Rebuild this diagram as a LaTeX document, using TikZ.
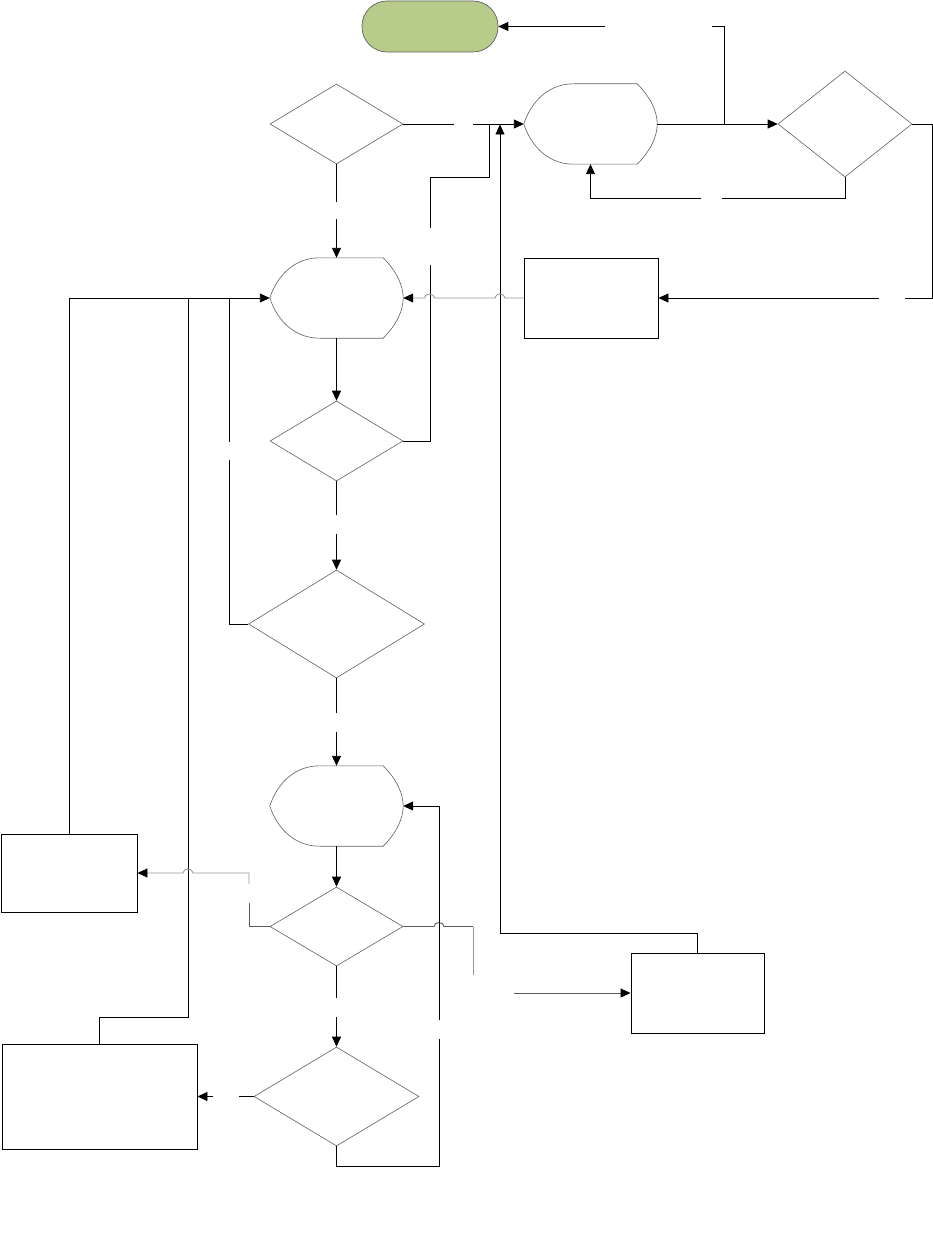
\documentclass[tikz,border=0pt]{standalone}
\usetikzlibrary{shapes.geometric,arrows.meta,calc}
\definecolor{termfill}{RGB}{183,204,138}
\definecolor{shapegray}{RGB}{95,95,95}
\definecolor{lightconn}{RGB}{150,150,150}
\definecolor{midconn}{RGB}{90,90,90}
\tikzset{
  shapeln/.style={draw=shapegray,line width=0.6pt},
  dec/.style={diamond,draw=shapegray,line width=0.6pt,inner sep=0pt},
  dispbox/.style={rectangle,inner sep=0pt,minimum width=133pt,minimum height=80pt},
  procbox/.style={rectangle,draw=black,line width=0.9pt,inner sep=0pt},
  termbox/.style={rectangle,draw=shapegray,line width=0.7pt,fill=termfill,rounded corners=25pt,inner sep=0pt,minimum width=136pt,minimum height=51pt},
  conn/.style={draw=black,line width=0.9pt},
  gconn/.style={draw=lightconn,line width=0.9pt},
  mconn/.style={draw=midconn,line width=0.9pt},
  arr/.style={-{Triangle[length=10pt,width=9pt,color=black]}},
}
\newcommand\dispoutline[1]{%
  \draw[shapeln] ($(#1.north west)+(50,0)$) -- ($(#1.north east)+(-20,0)$)
    .. controls ($(#1.east)+(-6,-26)$) and ($(#1.east)+(0,-12)$) .. (#1.east)
    .. controls ($(#1.east)+(0,12)$) and ($(#1.east)+(-6,26)$) .. ($(#1.south east)+(-20,0)$)
    -- ($(#1.south west)+(50,0)$)
    .. controls ($(#1.south west)+(20,0)$) and ($(#1.west)+(5,16)$) .. (#1.west)
    .. controls ($(#1.west)+(5,-16)$) and ($(#1.north west)+(20,0)$) .. cycle;}
\begin{document}
\begin{tikzpicture}[x=1pt,y=-1pt]
\useasboundingbox (0,0) rectangle (933,1252);
% nodes
\node[termbox] (term) at (430,26.5) {};
\node[dec,minimum width=133pt,minimum height=80pt] (d1) at (336.5,124) {};
\node[dispbox] (s1) at (590.5,124) {};
\node[dec,minimum width=134pt,minimum height=106pt] (d2) at (845,124) {};
\node[procbox,minimum width=134pt,minimum height=80pt] (r1) at (591,298) {};
\node[dispbox] (s2) at (336.5,298) {};
\node[dec,minimum width=133pt,minimum height=80pt] (d3) at (336.5,441) {};
\node[dec,minimum width=176pt,minimum height=108pt] (d4) at (336.5,624) {};
\node[dispbox] (s3) at (336.5,806) {};
\node[dec,minimum width=133pt,minimum height=79pt] (d5) at (336.5,926.5) {};
\node[procbox,minimum width=136pt,minimum height=78pt] (r2) at (69,873) {};
\node[procbox,minimum width=133pt,minimum height=80pt] (r3) at (697.5,993) {};
\node[dec,minimum width=165pt,minimum height=99pt] (d6) at (336.5,1096.5) {};
\node[procbox,minimum width=195pt,minimum height=105pt] (r4) at (99.5,1096.5) {};
\dispoutline{s1}
\dispoutline{s2}
\dispoutline{s3}
% coordinates
\coordinate (ja) at (724,124);
% connectors
\draw[conn] (ja) |- (712,26.5);
\draw[conn,arr] (605,26.5) -- (term.east);
\draw[conn,arr] (s1.east) -- (d2.west);
\draw[conn] (d1.east) -- (454,124);
\draw[conn,arr] (473,124) -- (s1.west);
\draw[conn] (d3.east) -- (430,441) -- (430,265);
\draw[conn] (430,228) -- (430,177) -- (489,177) -- (489,124);
\draw[conn,arr] (r3.north) |- (500,933) -- (500,124.5);
\draw[conn] (d2.south) |- (722,198);
\draw[conn,arr] (701,198) -| (s1.south);
\draw[conn] (d2.east) -- (932,124) |- (905,298);
\draw[conn,arr] (879,298) -- (r1.east);
\draw[gconn,arr] (r1.west) -- (505,298) arc[start angle=0,end angle=-180,x radius=5,y radius=4]
  -- (434.5,298) arc[start angle=0,end angle=-180,x radius=5,y radius=4] -- (s2.east);
\draw[conn] (d1.south) -- (336.5,202);
\draw[conn,arr] (336.5,219) -- (s2.north);
\draw[conn,arr] (s2.south) -- (d3.north);
\draw[conn] (d3.south) -- (336.5,515);
\draw[conn,arr] (336.5,534) -- (d4.north);
\draw[conn] (d4.west) -- (229,624) -- (229,460);
\draw[conn] (229,442) -- (229,298);
\draw[conn,arr] (r2.north) -- (69,298) -- (s2.west);
\draw[conn] (r4.north) -- (99.5,1017) -- (188,1017) -- (188,298);
\draw[conn] (d4.south) -- (336.5,713);
\draw[conn,arr] (336.5,732) -- (s3.north);
\draw[conn,arr] (s3.south) -- (d5.north);
\draw[mconn] (d5.west) -- (249,926.5) -- (249,903);
\draw[gconn,arr] (249,884) -- (249,873) -- (193,873) arc[start angle=0,end angle=-180,x radius=5,y radius=4] -- (r2.east);
\draw[mconn] (d5.east) -- (434,926.5) arc[start angle=180,end angle=360,x radius=5,y radius=4] -- (473,926.5);
\draw[gconn] (473,926.5) -- (473,975);
\draw[mconn,arr] (514,993) -- (r3.west);
\draw[conn] (d5.south) -- (336.5,998);
\draw[conn,arr] (336.5,1017) -- (d6.north);
\draw[conn] (d6.south) -- (336.5,1166) -- (439,1166) -- (439,1039);
\draw[conn,arr] (439,1020) -- (439,806) -- (s3.east);
\draw[conn] (d6.west) -- (239,1096.5);
\draw[conn,arr] (213,1096.5) -- (r4.east);
\end{tikzpicture}
\end{document}
